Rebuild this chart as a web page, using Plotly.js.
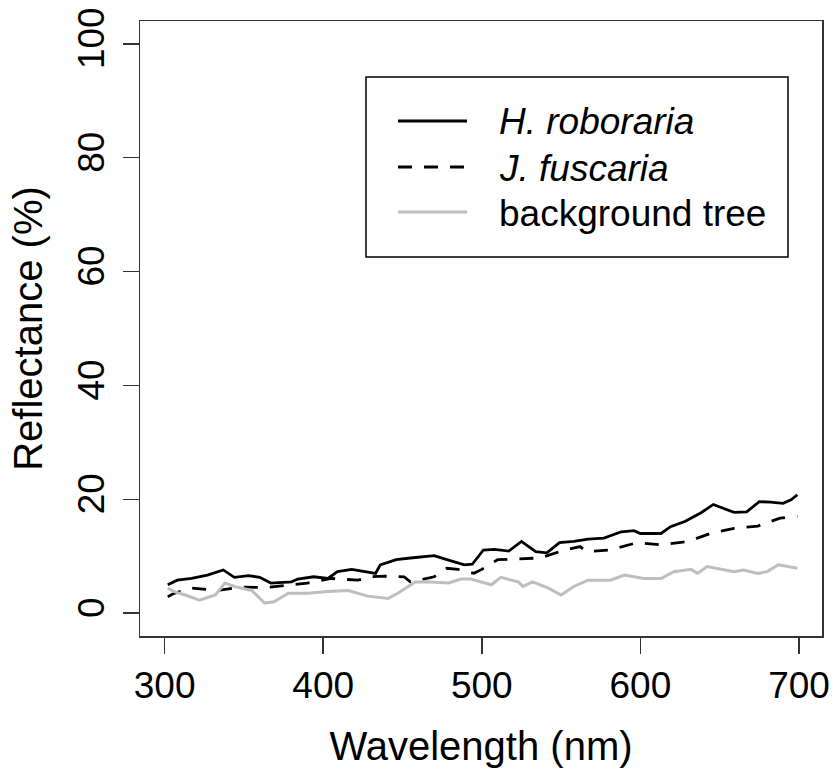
<!DOCTYPE html>
<html>
<head>
<meta charset="utf-8">
<script src="https://cdn.plot.ly/plotly-3.0.1.min.js"></script>
<style>html,body{margin:0;padding:0;background:#fff;}#chart{width:834px;height:770px;}</style>
</head>
<body>
<div id="chart"></div>
<script>
// Series names
const seriesNames = ["H. roboraria", "J. fuscaria", "background tree"];

// H. roboraria (solid black)
const hrWavelength = [302, 308, 317, 327, 337, 344, 353, 360, 367, 380, 384, 394, 403, 409, 418, 427, 433, 436, 446, 455, 470, 478, 489, 494, 501, 508, 517, 525, 534, 541, 549, 558, 567, 577, 588, 596, 600, 613, 619, 628, 638, 646, 653, 659, 667, 675, 682, 690, 695, 699];
const hrReflectance = [5.0, 5.8, 6.1, 6.7, 7.6, 6.3, 6.6, 6.3, 5.3, 5.5, 6.0, 6.4, 6.1, 7.3, 7.7, 7.3, 7.0, 8.5, 9.4, 9.7, 10.1, 9.4, 8.5, 8.6, 11.1, 11.2, 10.9, 12.6, 10.8, 10.6, 12.4, 12.6, 13.0, 13.2, 14.3, 14.5, 14.0, 14.0, 15.2, 16.1, 17.6, 19.1, 18.4, 17.7, 17.8, 19.6, 19.5, 19.3, 19.9, 20.8];

// J. fuscaria (dashed black)
const jfWavelength = [302, 306, 317, 334, 348, 363, 390, 405, 422, 430, 439, 451, 455, 466, 470, 478, 485, 495, 500, 510, 525, 537, 552, 562, 566, 581, 598, 613, 630, 644, 659, 674, 688, 699];
const jfReflectance = [2.9, 3.5, 4.4, 4.0, 4.6, 4.5, 5.3, 6.1, 5.8, 6.4, 6.5, 6.4, 5.5, 6.1, 6.4, 7.9, 7.7, 7.0, 7.7, 9.4, 9.5, 9.7, 11.1, 11.7, 10.8, 11.1, 12.4, 12.0, 12.6, 14.0, 14.9, 15.3, 16.7, 17.0];

// background tree (grey)
const btWavelength = [302, 306, 313, 322, 332, 338, 344, 355, 363, 369, 378, 390, 403, 416, 428, 441, 447, 458, 468, 479, 487, 493, 506, 512, 523, 526, 532, 542, 550, 558, 567, 581, 590, 602, 613, 621, 632, 636, 642, 653, 659, 665, 674, 680, 687, 699];
const btReflectance = [4.4, 3.8, 3.2, 2.3, 3.2, 5.3, 4.7, 4.0, 1.8, 2.0, 3.5, 3.5, 3.8, 4.0, 3.0, 2.6, 3.5, 5.5, 5.5, 5.3, 6.0, 6.0, 5.0, 6.3, 5.5, 4.7, 5.5, 4.4, 3.2, 4.7, 5.8, 5.8, 6.7, 6.1, 6.1, 7.3, 7.7, 7.0, 8.2, 7.6, 7.3, 7.6, 7.0, 7.3, 8.5, 7.9];

// Axis ticks
const xTicks = [300, 400, 500, 600, 700];
const yTicks = [0, 20, 40, 60, 80, 100];
const xTitle = "Wavelength (nm)";
const yTitle = "Reflectance (%)";

const FONT = "Liberation Sans, Arial, sans-serif";
const W = 834, H = 770;
const M = {l: 140, r: 12, t: 21, b: 134};
const PW = W - M.l - M.r, PH = H - M.t - M.b;
const px = x => (x - M.l) / PW;
const py = y => (H - M.b - y) / PH;

const styles = [
  {color: "#000000", width: 2.8, dash: "solid"},
  {color: "#000000", width: 2.8, dash: "14px,12px"},
  {color: "#bebebe", width: 3, dash: "solid"}
];

const traces = [
  {x: hrWavelength, y: hrReflectance},
  {x: jfWavelength, y: jfReflectance},
  {x: btWavelength, y: btReflectance}
].map((d, i) => ({
  x: d.x, y: d.y, type: "scatter", mode: "lines", name: seriesNames[i],
  line: {color: styles[i].color, width: styles[i].width, dash: styles[i].dash, shape: "linear"},
  showlegend: false
}));

// Custom legend (R style)
const legRows = [121, 167, 212];
const shapes = [{
  type: "rect", xref: "paper", yref: "paper",
  x0: px(366), x1: px(788), y0: py(77), y1: py(257),
  line: {color: "#000", width: 1.5}, fillcolor: "rgba(0,0,0,0)"
}];
const annotations = [];
legRows.forEach((ry, i) => {
  shapes.push({
    type: "line", xref: "paper", yref: "paper",
    x0: px(398), x1: px(467), y0: py(ry), y1: py(ry),
    line: {color: styles[i].color, width: styles[i].width, dash: i === 1 ? "14px,12px" : "solid"}
  });
  annotations.push({
    xref: "paper", yref: "paper", x: px(497), y: py(ry + 1),
    xanchor: "left", yanchor: "middle", showarrow: false,
    text: i < 2 ? "<i>" + seriesNames[i] + "</i>" : seriesNames[i],
    font: {family: FONT, size: 37, color: "#000"}
  });
});

const layout = {
  width: W, height: H,
  margin: M,
  paper_bgcolor: "#fff", plot_bgcolor: "#fff",
  font: {family: FONT, size: 37, color: "#000"},
  xaxis: {
    range: [284.5, 714.5], tickvals: xTicks, ticktext: xTicks.map(String),
    ticks: "outside", ticklen: 16, tickwidth: 1.5, tickcolor: "#333",
    showline: true, mirror: true, linecolor: "#333", linewidth: 1.5,
    showgrid: false, zeroline: false,
    tickfont: {family: FONT, size: 37, color: "#000"},
    title: {text: xTitle, font: {family: FONT, size: 40, color: "#000"}, standoff: 27}
  },
  yaxis: {
    range: [-4, 104], tickvals: yTicks, ticktext: yTicks.map(String),
    ticks: "outside", ticklen: 16, tickwidth: 1.5, tickcolor: "#333", tickangle: -90,
    ticklabelstandoff: 4,
    showline: true, mirror: true, linecolor: "#333", linewidth: 1.5,
    showgrid: false, zeroline: false,
    tickfont: {family: FONT, size: 37, color: "#000"},
    title: {text: yTitle, font: {family: FONT, size: 40, color: "#000"}, standoff: 15}
  },
  shapes: shapes,
  annotations: annotations,
  showlegend: false
};

Plotly.newPlot("chart", traces, layout, {staticPlot: true, displayModeBar: false});
</script>
</body>
</html>
